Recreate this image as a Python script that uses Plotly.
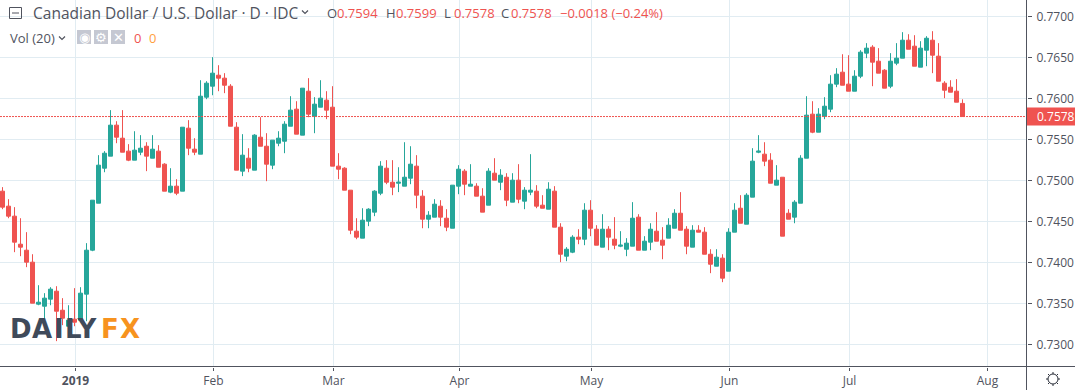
import plotly.graph_objects as go

# Daily CAD/USD candles, in chart order
highs = [0.74919,0.74772,0.74675,0.74540,0.74370,0.74101,0.73723,0.73626,0.73699,0.73711,0.73565,0.73479,0.73687,0.73699,0.74236,0.74760,
0.75309,0.75358,0.75858,0.75723,0.75858,0.75443,0.75601,0.75553,0.75467,0.75553,0.75431,0.75211,0.75150,0.75016,0.75650,0.75736,0.75516,
0.76223,0.76211,0.76504,0.76406,0.76309,0.76175,0.75711,0.75565,0.75394,0.75565,0.75772,0.75577,0.75492,0.75601,0.75723,0.76028,0.75967,
0.76126,0.76248,0.76016,0.76223,0.76089,0.76150,0.75333,0.75162,0.74882,0.74540,0.74662,0.74662,0.74882,0.75236,0.75248,0.75248,0.75162,
0.75467,0.75418,0.75309,0.74882,0.74626,0.74772,0.74760,0.74650,0.74943,0.75187,0.75138,0.75199,0.74967,0.74906,0.75150,0.75272,0.75138,
0.75089,0.75089,0.75199,0.74919,0.75321,0.74943,0.74821,0.74979,0.74931,0.74479,0.74187,0.74333,0.74406,0.74723,0.74760,0.74455,0.74589,
0.74443,0.74553,0.74382,0.74297,0.74736,0.74589,0.74321,0.74479,0.74614,0.74431,0.74540,0.74650,0.74858,0.74443,0.74455,0.74455,0.74431,
0.74162,0.74162,0.74101,0.74418,0.74723,0.74821,0.74845,0.75394,0.75553,0.75467,0.75333,0.75187,0.75040,0.74650,0.74760,0.75309,0.76028,
0.75967,0.75882,0.76016,0.76284,0.76370,0.76540,0.76528,0.76345,0.76589,0.76675,0.76650,0.76614,0.76358,0.76553,0.76675,0.76809,0.76784,
0.76772,0.76699,0.76760,0.76821,0.76675,0.76211,0.76223,0.76236,0.7599]
opens = [0.74870,0.74687,0.74565,0.74223,0.74150,0.74004,0.73492,0.73467,0.73553,0.73650,0.73418,0.73223,0.73309,0.73297,0.73614,0.74150,
0.74723,0.75150,0.75297,0.75675,0.75516,0.75358,0.75248,0.75345,0.75418,0.75272,0.75358,0.75199,0.74858,0.74931,0.74870,0.75638,0.75382,
0.75321,0.76016,0.76150,0.76284,0.76248,0.76150,0.75650,0.75114,0.75272,0.75126,0.75528,0.75418,0.75187,0.75455,0.75479,0.75662,0.75870,
0.75553,0.76089,0.75784,0.75894,0.75980,0.75894,0.75175,0.75150,0.74882,0.74382,0.74297,0.74504,0.74614,0.74845,0.75150,0.74979,0.74967,
0.74931,0.75028,0.75175,0.74809,0.74528,0.74553,0.74687,0.74540,0.74418,0.74931,0.75114,0.74931,0.74931,0.74809,0.74699,0.75089,0.74979,
0.75040,0.74736,0.75004,0.74748,0.74858,0.74870,0.74699,0.74650,0.74870,0.74431,0.74077,0.74126,0.74309,0.74284,0.74638,0.74406,0.74187,
0.74406,0.74284,0.74199,0.74162,0.74199,0.74553,0.74150,0.74248,0.74382,0.74272,0.74297,0.74418,0.74601,0.74406,0.74187,0.74394,0.74370,
0.74101,0.73955,0.74053,0.73894,0.74370,0.74662,0.74467,0.74797,0.75345,0.75321,0.75248,0.74943,0.75040,0.74601,0.74553,0.74723,0.75272,
0.75809,0.75589,0.75784,0.75870,0.76175,0.76321,0.76175,0.76089,0.76272,0.76553,0.76626,0.76455,0.76345,0.76150,0.76431,0.76492,0.76711,
0.76638,0.76382,0.76589,0.76711,0.76516,0.76187,0.76138,0.76089,0.7594]
closes = [0.74675,0.74565,0.74248,0.74187,0.74004,0.73504,0.73516,0.73565,0.73675,0.73406,0.73321,0.73297,0.73272,0.73626,0.74150,0.74760,
0.75187,0.75333,0.75675,0.75528,0.75345,0.75248,0.75370,0.75394,0.75297,0.75382,0.75162,0.74870,0.74931,0.74845,0.75650,0.75394,0.75345,
0.76028,0.76187,0.76309,0.76248,0.76162,0.75662,0.75126,0.75309,0.75150,0.75553,0.75418,0.75199,0.75492,0.75516,0.75687,0.75858,0.75565,
0.76126,0.75809,0.75931,0.76004,0.75858,0.75175,0.75138,0.74882,0.74394,0.74309,0.74516,0.74650,0.74870,0.75175,0.74979,0.74919,0.74979,
0.75040,0.75199,0.74821,0.74528,0.74577,0.74711,0.74553,0.74431,0.74943,0.75138,0.74955,0.74955,0.74809,0.74614,0.75114,0.75004,0.75065,
0.74760,0.75004,0.74772,0.74882,0.74882,0.74687,0.74662,0.74894,0.74431,0.74101,0.74162,0.74309,0.74284,0.74638,0.74418,0.74211,0.74406,
0.74309,0.74211,0.74211,0.74236,0.74540,0.74150,0.74260,0.74406,0.74260,0.74211,0.74455,0.74601,0.74394,0.74199,0.74394,0.74370,0.74101,
0.73979,0.74065,0.73809,0.74370,0.74638,0.74479,0.74821,0.75236,0.75358,0.75236,0.74967,0.75004,0.74321,0.74528,0.74736,0.75272,0.75797,
0.75589,0.75809,0.75906,0.76175,0.76297,0.76162,0.76089,0.76272,0.76565,0.76614,0.76443,0.76309,0.76126,0.76455,0.76492,0.76711,0.76601,
0.76394,0.76614,0.76735,0.76528,0.76211,0.76101,0.76077,0.75955,0.7578]
lows = [0.74650,0.74540,0.74126,0.74077,0.73943,0.73504,0.73479,0.73272,0.73479,0.73041,0.73236,0.73150,0.73223,0.73272,0.73284,0.74138,
0.74723,0.75101,0.75297,0.75455,0.75345,0.75236,0.75248,0.75309,0.75114,0.75272,0.75162,0.74870,0.74845,0.74821,0.74870,0.75309,0.75309,
0.75321,0.75992,0.76040,0.76089,0.76065,0.75662,0.75126,0.75053,0.75101,0.75126,0.75418,0.74992,0.75138,0.75418,0.75333,0.75662,0.75565,
0.75553,0.75772,0.75577,0.75894,0.75748,0.75175,0.75016,0.74882,0.74345,0.74284,0.74297,0.74443,0.74565,0.74821,0.74955,0.74821,0.74858,
0.74931,0.74955,0.74662,0.74418,0.74418,0.74553,0.74443,0.74382,0.74418,0.74833,0.74821,0.74931,0.74809,0.74614,0.74699,0.75004,0.74882,
0.74687,0.74736,0.74723,0.74650,0.74821,0.74662,0.74662,0.74650,0.74431,0.74004,0.74016,0.74114,0.74223,0.74211,0.74321,0.74211,0.74187,
0.74150,0.74162,0.74187,0.74077,0.74199,0.74150,0.74150,0.74150,0.74260,0.74040,0.74297,0.74418,0.74394,0.74101,0.74187,0.74370,0.74101,
0.73870,0.73955,0.73760,0.73894,0.74370,0.74479,0.74467,0.74797,0.75333,0.75175,0.74967,0.74943,0.74321,0.74528,0.74479,0.74723,0.75272,
0.75577,0.75589,0.75748,0.75833,0.76138,0.76162,0.76089,0.76089,0.76248,0.76492,0.76150,0.76309,0.76126,0.76126,0.76406,0.76492,0.76601,
0.76394,0.76382,0.76394,0.76309,0.76211,0.76004,0.76077,0.75955,0.7578]

month_labels = ["<b>2019</b>", "Feb", "Mar", "Apr", "May", "Jun", "Jul", "Aug"]
month_starts = [12, 35, 55, 76, 98, 121, 141, 164]   # trading-day index of each month's first session
price_ticks = [0.73, 0.735, 0.74, 0.745, 0.75, 0.755, 0.76, 0.765, 0.77]
last_price = closes[-1]

W, H = 1075, 390
PW, PH = 1027, 367
GREEN, RED, GRID, INK, AXIS = "#26a69a", "#ef5350", "#e1ecf2", "#50535e", "#50535e"
FONT = "Open Sans"
BAR = 6.0
X0 = 2.5
def px(x): return x / PW
def py(y): return 1 - y / PH

xs = list(range(len(closes)))
fig = go.Figure(go.Candlestick(
    x=xs, open=opens, high=highs, low=lows, close=closes, whiskerwidth=0,
    increasing=dict(line=dict(color=GREEN, width=1), fillcolor=GREEN),
    decreasing=dict(line=dict(color=RED, width=1), fillcolor=RED),
    hoverinfo="skip", showlegend=False))

shapes, ann = [], []
def text(x, y, s, color=INK, size=12, anchor="left", fam=FONT):
    ann.append(dict(xref="paper", yref="paper", x=px(x), y=py(y), text=s, showarrow=False,
                    xanchor=anchor, yanchor="middle", align="left", borderpad=0,
                    font=dict(family=fam, size=size, color=color)))
def line(x0, y0, x1, y1, color=AXIS, width=1):
    shapes.append(dict(type="line", xref="paper", yref="paper", x0=px(x0), y0=py(y0), x1=px(x1), y1=py(y1),
                       line=dict(color=color, width=width), layer="above"))
def rect(x0, y0, x1, y1, fill=None, lc=None):
    shapes.append(dict(type="rect", xref="paper", yref="paper", x0=px(x0), y0=py(y0), x1=px(x1), y1=py(y1),
                       fillcolor=fill or "rgba(0,0,0,0)", line=dict(color=lc or "rgba(0,0,0,0)", width=1), layer="above"))
def chevron(x, y, color=INK):
    shapes.append(dict(type="path", xref="paper", yref="paper",
                       path=f"M {px(x-3)} {py(y-1.5)} L {px(x)} {py(y+1.5)} L {px(x+3)} {py(y-1.5)}",
                       line=dict(color=color, width=1.2), layer="above"))

# last-price line and tag
shapes.append(dict(type="line", xref="paper", yref="y", x0=0, x1=1, y0=last_price, y1=last_price,
                   line=dict(color=RED, width=1, dash="2px,1px"), layer="above"))
shapes.append(dict(type="rect", xref="paper", yref="y", x0=1, x1=px(W),
                   y0=last_price - 9 / 8200, y1=last_price + 9 / 8200,
                   fillcolor=RED, line=dict(width=0), layer="above"))
ann.append(dict(xref="paper", yref="y", x=px(1035), y=last_price, text=f"{last_price:.4f}", showarrow=False,
                xanchor="left", yanchor="middle", font=dict(family=FONT, size=12, color="#ffffff")))

# axis lines running to the window edges
line(1026.5, 0, 1026.5, H)
line(0, 366.5, W, 366.5)

# header row
rect(9.5, 7.5, 21.5, 18.5, lc=INK)
line(12, 13, 19, 13, INK)
text(32, 13, "Canadian Dollar / U.S. Dollar · D · IDC", size=15.5)
chevron(305, 12)
for x, label, value in [(326, "O", "0.7594"), (385, "H", "0.7599"), (443, "L", "0.7578"), (500, "C", "0.7578")]:
    text(x, 13, label, size=13)
    text(x + 10, 13, value, RED, size=13)
text(559, 13, "−0.0018 (−0.24%)", RED, size=13)

# volume row
text(9, 38, "Vol (20)", size=13)
chevron(62, 38)
for x0, glyph in [(77, "◉"), (94, "⚙"), (111, "✕")]:
    rect(x0, 30, x0 + 14, 44, fill="#c5c8d2")
    text(x0 + 7, 37, glyph, "#ffffff", size=13, anchor="center", fam="DejaVu Sans")
text(133, 38, "0", RED, size=13)
text(148, 38, "0", "#ff9f40", size=13)

# logo
for x, s, col in [(9, "D", "#3f4a5a"), (31, "A", "#3f4a5a"), (53, "I", "#3f4a5a"), (64, "LY", "#3f4a5a"),
                  (100, "F", "#f7931e"), (119, "X", "#f7931e")]:
    text(x, 329, f"<b>{s}</b>", col, size=26, fam="DejaVu Sans")

# settings icon
shapes.append(dict(type="circle", xref="paper", yref="paper", x0=px(1048), x1=px(1058), y0=py(384), y1=py(374),
                   line=dict(color="#2a2e39", width=1), layer="above"))
for a, b, c, d in [(1053, 372, 1053, 374), (1053, 384, 1053, 386), (1046, 379, 1048, 379), (1058, 379, 1060, 379),
                   (1048, 374, 1049.5, 375.5), (1056.5, 375.5, 1058, 374), (1048, 384, 1049.5, 382.5), (1056.5, 382.5, 1058, 384)]:
    line(a, b, c, d, "#2a2e39")

y_top = 0.77 + 16.5 / 8200
fig.update_layout(
    width=W, height=H, margin=dict(l=0, r=W - PW, t=0, b=H - PH), autosize=False,
    paper_bgcolor="#ffffff", plot_bgcolor="#ffffff", showlegend=False, boxgap=1 / 3, boxgroupgap=0,
    font=dict(family=FONT, size=12, color=INK), shapes=shapes, annotations=ann,
    xaxis=dict(type="linear", range=[-X0 / BAR, (PW - X0) / BAR], rangeslider=dict(visible=False),
               tickmode="array", tickvals=[m + 1 / BAR for m in month_starts], ticktext=month_labels,
               showgrid=True, gridcolor=GRID, gridwidth=1, zeroline=False, showline=False,
               ticks="outside", ticklen=3, tickcolor=AXIS, tickwidth=1,
               tickfont=dict(family=FONT, size=12, color=INK)),
    yaxis=dict(side="right", range=[y_top - PH / 8200, y_top],
               tickmode="array", tickvals=price_ticks, ticktext=[f"{v:.4f}" for v in price_ticks],
               showgrid=True, gridcolor=GRID, gridwidth=1, zeroline=False, showline=False,
               ticks="outside", ticklen=4, ticklabelstandoff=2, tickcolor=AXIS, tickwidth=1,
               tickfont=dict(family=FONT, size=12, color=INK)),
)
fig.write_html("out.html", config=dict(displayModeBar=False),
               post_script="document.body.style.margin='0';document.body.style.overflow='hidden';")
